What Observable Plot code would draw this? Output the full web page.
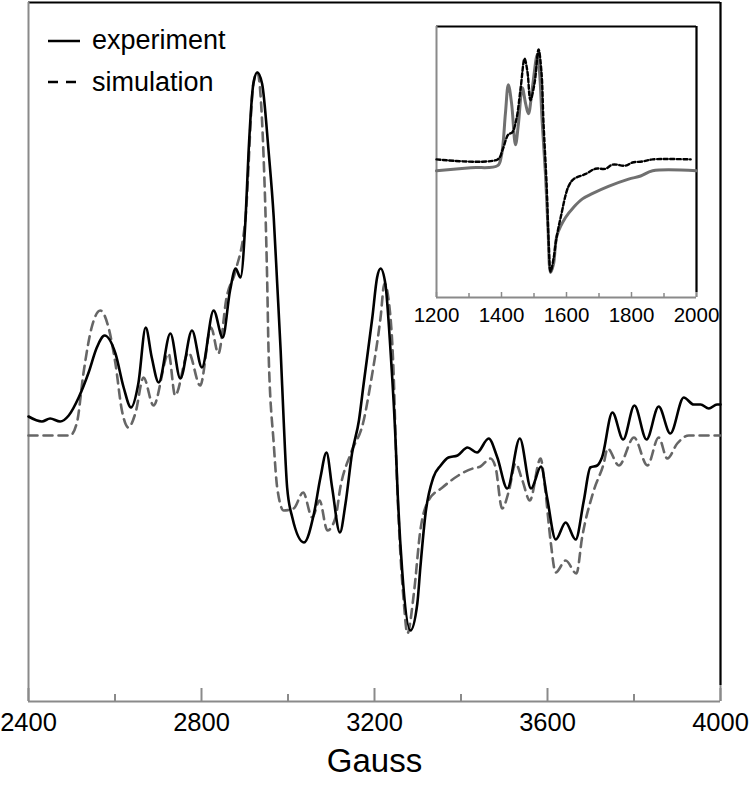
<!DOCTYPE html>
<html><head><meta charset="utf-8">
<script src="https://cdn.jsdelivr.net/npm/d3@7"></script>
<script src="https://cdn.jsdelivr.net/npm/@observablehq/plot@0.6"></script>
<style>
body{margin:0;background:#fff;}
#wrap{position:relative;width:750px;height:795px;font-family:"Liberation Sans",Arial,sans-serif;}
#wrap svg{display:block;}
#inset{position:absolute;left:400px;top:10px;}
#legend{position:absolute;left:0;top:0;}
</style></head><body><div id="wrap"><div id="main"></div><div id="inset"></div><div id="legend"></div></div>
<script>
// ---- main spectrum (Gauss, arbitrary derivative intensity) ----
const expGauss = [2400,2431,2450,2473,2493,2516,2539,2558,2576,2601,2620,2637,2654,2671,2685,2701,2728,2751,2778,2801,2828,2849,2866,2879,2890,2902,2909,2920,2929,2940,2955,2967,2975,2983,2990,2998,3010,3037,3060,3075,3089,3102,3120,3133,3148,3164,3175,3195,3206,3214,3225,3237,3249,3253,3264,3283,3299,3306,3318,3336,3353,3371,3392,3415,3437,3464,3484,3507,3536,3562,3585,3599,3619,3642,3665,3684,3699,3715,3726,3750,3775,3801,3829,3857,3884,3915,3938,3954,3973,3992,4000];
const expSignal = [0.19,0.14,0.17,0.14,0.20,0.38,0.63,0.88,1.00,0.82,0.48,0.28,0.52,1.08,0.78,0.53,1.02,0.57,1.05,0.68,1.25,0.98,1.45,1.67,1.58,2.18,2.85,3.52,3.63,3.52,2.85,2.18,1.52,0.85,0.15,-0.52,-0.82,-1.07,-0.78,-0.42,-0.17,-0.52,-0.97,-0.68,-0.18,0.15,0.52,1.18,1.58,1.67,1.52,0.85,-0.08,-0.52,-1.35,-1.95,-1.68,-1.32,-0.78,-0.42,-0.30,-0.22,-0.20,-0.12,-0.17,-0.03,-0.22,-0.53,-0.03,-0.53,-0.31,-0.62,-1.04,-0.87,-1.04,-0.65,-0.32,-0.30,-0.22,0.23,-0.04,0.30,-0.04,0.29,0.02,0.38,0.31,0.31,0.27,0.31,0.31];
const simGauss = [2400,2496,2512,2527,2546,2566,2585,2601,2616,2631,2647,2666,2689,2724,2739,2770,2797,2822,2839,2858,2879,2902,2920,2929,2943,2952,2955,2967,2975,2990,3013,3035,3056,3073,3091,3110,3121,3145,3175,3191,3214,3223,3237,3245,3249,3256,3268,3276,3291,3306,3325,3357,3394,3427,3445,3468,3480,3495,3511,3526,3542,3559,3584,3595,3607,3619,3642,3667,3680,3707,3730,3739,3765,3800,3831,3857,3877,3900,3927,4000];
const simSignal = [0,0,0.13,0.62,1.08,1.25,1.08,0.72,0.25,0.08,0.22,0.58,0.30,0.82,0.40,0.83,0.50,1.08,0.82,1.38,1.65,2.19,3.52,3.63,2.85,1.52,0.85,-0.08,-0.52,-0.75,-0.73,-0.57,-0.82,-0.65,-0.95,-0.82,-0.52,-0.18,0.15,0.52,1.18,1.52,1.18,0.52,-0.08,-0.85,-1.68,-1.98,-1.58,-0.95,-0.65,-0.52,-0.40,-0.33,-0.31,-0.23,-0.32,-0.73,-0.55,-0.28,-0.45,-0.65,-0.23,-0.55,-1.05,-1.37,-1.25,-1.38,-1.02,-0.55,-0.28,-0.13,-0.30,-0.02,-0.30,-0.02,-0.23,-0.08,0,0];

// ---- inset spectrum ----
const insetExpGauss = [1200,1305,1388,1400,1412,1421,1431,1443,1452,1464,1474,1483,1495,1510,1517,1525,1535,1543,1551,1560,1571,1597,1622,1649,1679,1729,1791,1828,1865,2000];
const insetExpSignal = [0,0.03,0.05,0.15,0.55,0.83,0.65,0.25,0.45,0.80,0.65,0.55,0.80,1.12,0.95,0.48,-0.02,-0.55,-0.98,-0.90,-0.62,-0.45,-0.35,-0.27,-0.22,-0.15,-0.08,-0.05,0,0];
const insetSimGauss = [1200,1388,1403,1421,1433,1446,1459,1471,1480,1489,1502,1514,1523,1529,1539,1545,1551,1560,1569,1582,1606,1622,1659,1689,1720,1742,1782,1803,1834,1865,1982];
const insetSimSignal = [0.11,0.11,0.20,0.35,0.37,0.50,0.80,1.08,0.95,0.68,0.85,1.17,0.95,0.48,-0.15,-0.68,-0.97,-0.85,-0.65,-0.45,-0.15,-0.08,-0.03,0.02,0.02,0.06,0.05,0.08,0.09,0.11,0.11];

// ---- ticks & labels ----
const mainMajorTicks = [2400,2800,3200,3600,4000];
const mainMinorTicks = [2600,3000,3400,3800];
const insetMajorTicks = [1200,1400,1600,1800,2000];
const insetMinorTicks = [1300,1500,1700,1900];
const xLabel = "Gauss";
const legendLabels = ["experiment","simulation"];

const font = '"Liberation Sans", Arial, Helvetica, sans-serif';
const exp = expGauss.map((g,i)=>({g, v: expSignal[i]}));
const sim = simGauss.map((g,i)=>({g, v: simSignal[i]}));
const iexp = insetExpGauss.map((g,i)=>({g, v: insetExpSignal[i]}));
const isim = insetSimGauss.map((g,i)=>({g, v: insetSimSignal[i]}));

// main chart
const W=750, H=795, mL=28, mR=30, mT=2, mB=94;
const yMin=-2.66, yMax=4.33;
const ph = H-mT-mB;
const main = Plot.plot({
  width: W, height: H, marginLeft: mL, marginRight: mR, marginTop: mT, marginBottom: mB,
  style: {fontFamily: font, background: "white", overflow: "visible"},
  x: {domain: [2400,4000], axis: null},
  y: {domain: [yMin,yMax], axis: null},
  marks: [
    Plot.ruleX([4000], {stroke:"#8a8a8a", strokeWidth:2}),
    Plot.ruleX([4000], {stroke:"#000", strokeWidth:2, insetBottom:16}),
    Plot.ruleY([yMax], {stroke:"#000", strokeWidth:2}),
    Plot.ruleX([2400], {stroke:"#8a8a8a", strokeWidth:2}),
    Plot.ruleY([yMin], {stroke:"#8a8a8a", strokeWidth:2}),
    Plot.tickX(mainMajorTicks, {x:d=>d, stroke:"#8a8a8a", strokeWidth:2, insetTop: ph-13}),
    Plot.tickX(mainMinorTicks, {x:d=>d, stroke:"#8a8a8a", strokeWidth:2, insetTop: ph-7}),
    Plot.text(mainMajorTicks, {x:d=>d, frameAnchor:"bottom", dy:29, text:d=>String(d), fontSize:25.5, fill:"#000"}),
    Plot.text([xLabel], {frameAnchor:"bottom", dy:70, text:d=>d, fontSize:33, fill:"#000"}),
    Plot.line(sim, {x:"g", y:"v", curve:"monotone-x", stroke:"#666", strokeWidth:2.6, strokeDasharray:"9,6"}),
    Plot.line(exp, {x:"g", y:"v", curve:"monotone-x", stroke:"#000", strokeWidth:2.6})
  ]
});
document.getElementById("main").appendChild(main);

// inset chart
const IW=320, IH=320, iL=36, iR=24, iT=16, iB=33;
const iyMin=-1.22, iyMax=1.39;
const iph = IH-iT-iB;
const inset = Plot.plot({
  width: IW, height: IH, marginLeft: iL, marginRight: iR, marginTop: iT, marginBottom: iB,
  style: {fontFamily: font, background: "transparent", overflow: "visible"},
  x: {domain: [1200,2000], axis: null},
  y: {domain: [iyMin,iyMax], axis: null},
  marks: [
    Plot.ruleX([2000], {stroke:"#8a8a8a", strokeWidth:2}),
    Plot.ruleX([2000], {stroke:"#000", strokeWidth:2, insetBottom:5}),
    Plot.ruleY([iyMax], {stroke:"#000", strokeWidth:2}),
    Plot.ruleX([1200], {stroke:"#8a8a8a", strokeWidth:2}),
    Plot.ruleY([iyMin], {stroke:"#8a8a8a", strokeWidth:2}),
    Plot.tickX(insetMajorTicks, {x:d=>d, stroke:"#8a8a8a", strokeWidth:1.5, insetTop: iph-5}),
    Plot.tickX(insetMinorTicks, {x:d=>d, stroke:"#8a8a8a", strokeWidth:1.5, insetTop: iph-4}),
    Plot.text(insetMajorTicks, {x:d=>d, frameAnchor:"bottom", dy:24.5, text:d=>String(d), fontSize:20.5, fill:"#000"}),
    Plot.line(iexp, {x:"g", y:"v", curve:"catmull-rom", stroke:"#707070", strokeWidth:3}),
    Plot.line(isim, {x:"g", y:"v", curve:"catmull-rom", stroke:"#000", strokeWidth:2.4, strokeDasharray:"4,2.5"})
  ]
});
document.getElementById("inset").appendChild(inset);

// legend
const ns = "http://www.w3.org/2000/svg";
const lg = document.createElementNS(ns, "svg");
lg.setAttribute("width", 260); lg.setAttribute("height", 110);
const styles = [{dash:null, y:41, ty:49}, {dash:"10,8", y:82, ty:91}];
legendLabels.forEach((lab,i)=>{
  const s = styles[i];
  const ln = document.createElementNS(ns, "line");
  ln.setAttribute("x1", 48); ln.setAttribute("x2", 80);
  ln.setAttribute("y1", s.y); ln.setAttribute("y2", s.y);
  ln.setAttribute("stroke", "#000"); ln.setAttribute("stroke-width", 2.5);
  if (s.dash) ln.setAttribute("stroke-dasharray", s.dash);
  lg.appendChild(ln);
  const t = document.createElementNS(ns, "text");
  t.setAttribute("x", 92); t.setAttribute("y", s.ty);
  t.setAttribute("font-size", 27); t.setAttribute("font-family", font);
  t.textContent = lab;
  lg.appendChild(t);
});
document.getElementById("legend").appendChild(lg);
</script></body></html>
